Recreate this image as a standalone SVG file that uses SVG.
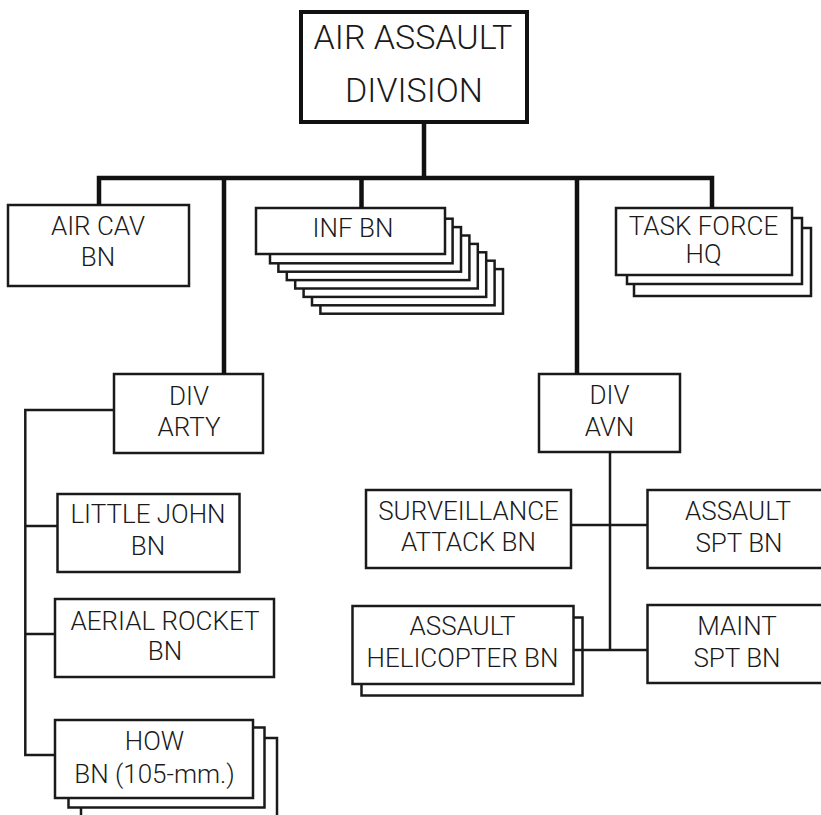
<svg xmlns="http://www.w3.org/2000/svg" width="821" height="815" viewBox="0 0 821 815">
<style>
.b{fill:#fff;stroke:#1a1a1a;stroke-width:2.5}
.t{font-family:Roboto,"Liberation Sans",sans-serif;font-size:26px;font-weight:300;fill:#1a1a1a;text-anchor:middle}
.tt{font-family:Roboto,"Liberation Sans",sans-serif;font-size:34px;font-weight:300;fill:#1a1a1a;text-anchor:middle}
.thick{fill:none;stroke:#111;stroke-width:4.5}
.thin{fill:none;stroke:#1a1a1a;stroke-width:2.5}
</style>
<rect width="821" height="815" fill="#fff"/>
<g id="division">
<rect x="301" y="12" width="226" height="110" fill="#fff" stroke="#111" stroke-width="4"/>
<text class="tt" x="413" y="49">AIR ASSAULT</text>
<text class="tt" x="414" y="102">DIVISION</text>
</g>
<g id="aircav">
<rect class="b" x="8" y="205" width="181" height="81"/>
<text class="t" x="98" y="235">AIR CAV</text>
<text class="t" x="98" y="266">BN</text>
</g>
<g id="infbn">
<rect class="b" x="320.4" y="269.1" width="182.6" height="44.6"/>
<rect class="b" x="312" y="260.7" width="182.6" height="44.6"/>
<rect class="b" x="303.6" y="252.3" width="182.6" height="44.6"/>
<rect class="b" x="295.2" y="243.9" width="182.6" height="44.6"/>
<rect class="b" x="286.8" y="235.5" width="182.6" height="44.6"/>
<rect class="b" x="278.4" y="227.1" width="182.6" height="44.6"/>
<rect class="b" x="270" y="218.7" width="182.6" height="44.6"/>
<rect class="b" x="256" y="208" width="189" height="46"/>
<text class="t" x="353" y="236.5">INF BN</text>
</g>
<g id="taskforce">
<rect class="b" x="634" y="228" width="177" height="68"/>
<rect class="b" x="627" y="218" width="175" height="66"/>
<rect class="b" x="616" y="208" width="176" height="67"/>
<text class="t" x="703.5" y="235">TASK FORCE</text>
<text class="t" x="703.5" y="263">HQ</text>
</g>
<g id="divarty">
<rect class="b" x="114" y="374" width="149" height="79"/>
<text class="t" x="189" y="405">DIV</text>
<text class="t" x="189" y="436">ARTY</text>
</g>
<g id="littlejohn">
<rect class="b" x="57.5" y="494" width="182" height="78"/>
<text class="t" x="148" y="523">LITTLE JOHN</text>
<text class="t" x="148" y="555">BN</text>
</g>
<g id="aerialrocket">
<rect class="b" x="55" y="599" width="219" height="78"/>
<text class="t" x="165" y="630">AERIAL ROCKET</text>
<text class="t" x="165" y="660">BN</text>
</g>
<g id="howbn">
<rect class="b" x="81" y="738" width="196" height="90"/>
<rect class="b" x="68.5" y="727.5" width="196" height="80"/>
<rect class="b" x="55" y="720" width="198" height="78"/>
<text class="t" x="154.5" y="750">HOW</text>
<text class="t" x="154.5" y="783">BN (105-mm.)</text>
</g>
<g id="divavn">
<rect class="b" x="539" y="374" width="141" height="78"/>
<text class="t" x="609.5" y="404">DIV</text>
<text class="t" x="609.5" y="436">AVN</text>
</g>
<g id="survattack">
<rect class="b" x="366" y="490" width="205" height="78"/>
<text class="t" x="468.5" y="520">SURVEILLANCE</text>
<text class="t" x="468.5" y="551">ATTACK BN</text>
</g>
<g id="assaultspt">
<rect class="b" x="647.5" y="490" width="185" height="78"/>
<text class="t" x="738" y="520">ASSAULT</text>
<text class="t" x="739" y="551.5">SPT BN</text>
</g>
<g id="assaulthelo">
<rect class="b" x="361.5" y="617.5" width="221" height="78"/>
<rect class="b" x="352.5" y="606" width="221" height="78"/>
<text class="t" x="462.5" y="635">ASSAULT</text>
<text class="t" x="462.5" y="666.5">HELICOPTER BN</text>
</g>
<g id="maintspt">
<rect class="b" x="647.5" y="605" width="185" height="78"/>
<text class="t" x="737" y="635">MAINT</text>
<text class="t" x="737" y="666.5">SPT BN</text>
</g>
<g id="connectors">
<path class="thick" d="M424,124 V178"/>
<path class="thick" d="M99,205 V178 H712 V208"/>
<path class="thick" d="M224,178 V374"/>
<path class="thick" d="M361.5,178 V208"/>
<path class="thick" d="M577,178 V374"/>
<path class="thin" d="M114,410 H25.3 V755 H55"/>
<path class="thin" d="M25.3,526 H57.5"/>
<path class="thin" d="M25.3,634 H55"/>
<path class="thin" d="M610,452 V650"/>
<path class="thin" d="M571,525 H647.5"/>
<path class="thin" d="M573.5,650 H647.5"/>
</g>
</svg>
